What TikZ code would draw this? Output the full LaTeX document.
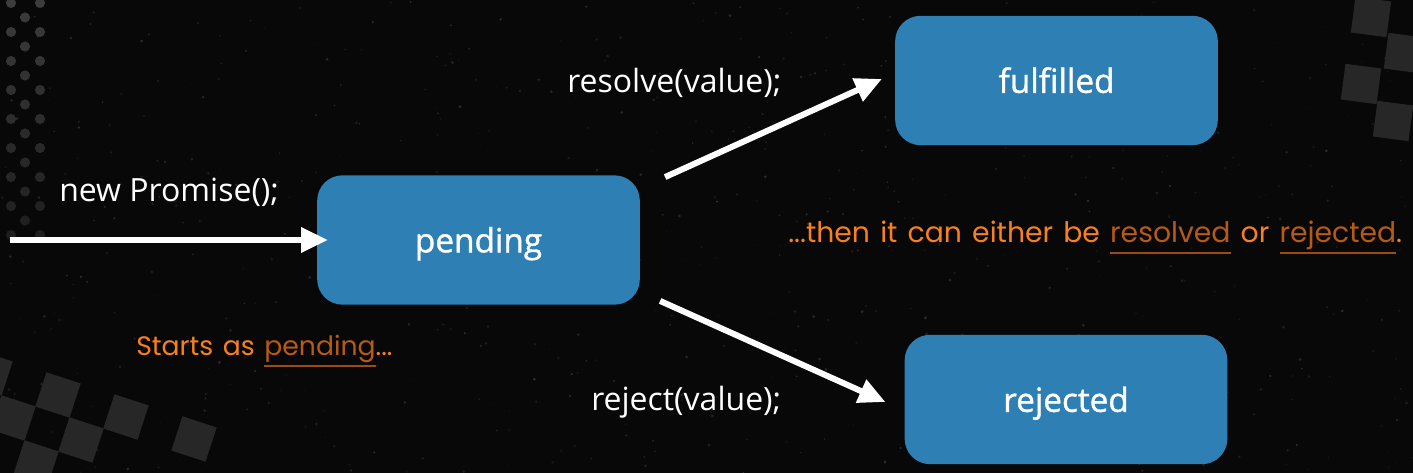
\documentclass[tikz,border=0pt]{standalone}
\usepackage{fontspec}
\setmainfont{Open Sans}
\newfontfamily\semifont{Open Sans}[FakeBold=1.2]
\newfontfamily\handfont{Poppins}[WordSpace=1.35]
\usetikzlibrary{arrows.meta}
\definecolor{bgc}{HTML}{080808}
\definecolor{boxblue}{HTML}{2E7FB3}
\definecolor{orangetxt}{HTML}{F7811E}
\definecolor{orangedark}{HTML}{B65A14}
\definecolor{ulc}{HTML}{9C4C10}
\definecolor{checkc}{HTML}{272727}
\definecolor{dotc}{HTML}{3C3C3C}
\definecolor{speckc}{HTML}{2E2E2E}
\newsavebox\hulbox
\newcommand\hul[1]{\sbox\hulbox{#1}\rlap{\textcolor{ulc}{\rule[-8.5pt]{\wd\hulbox}{1.6pt}}}\usebox\hulbox}
\begin{document}
\begin{tikzpicture}[x=0.75pt,y=-0.75pt,
  state/.style={draw=none, fill=boxblue, rounded corners=19pt,
    minimum width=242pt, minimum height=97pt, inner sep=0pt,
    text=white, font=\semifont\fontsize{25}{29}\selectfont,
    text height=18.5pt, text depth=0pt},
  lab/.style={text=white, font=\fontsize{24}{28}\selectfont,
    inner sep=0pt, anchor=base west},
  hand/.style={text=orangetxt, inner sep=0pt, anchor=base west},
  arr/.style={draw=white, line width=4.5pt,
    -{Triangle[length=20pt,width=18pt]}},
  sq/.style={fill=checkc},
  dotty/.style={fill=dotc}]
% background
\fill[bgc] (0,0) rectangle (1413,473);
\useasboundingbox (0,0) rectangle (1413,473);
% speckles
\pgfmathsetseed{42}
\foreach \i in {1,...,650}{
  \pgfmathsetmacro\xx{rnd*1413}
  \pgfmathsetmacro\yy{rnd*473}
  \pgfmathsetmacro\rr{0.25+rnd*0.9}
  \pgfmathsetmacro\op{0.35+rnd*0.65}
  \fill[speckc, opacity=\op] (\xx,\yy) circle (\rr pt);
}
% dotted column at the left
\foreach \j in {0,...,16}{
  \pgfmathsetmacro\yy{3+\j*14.5}
  \pgfmathsetmacro\op{1-\j*0.035}
  \ifodd\j
    \fill[dotty, opacity=\op] (25,\yy) circle (3.8pt);
  \else
    \fill[dotty, opacity=\op] (11,\yy) circle (3.8pt);
    \fill[dotty, opacity=\op] (40,\yy) circle (3.8pt);
  \fi
}
% checkers
\begin{scope}
\clip (0,0) rectangle (1413,473);
\foreach \cx/\cy in {1371/17, 1404/53, 1361/84, 1393/121}{
  \fill[sq, shift={(\cx,\cy)}, rotate=-7.5] (-18,-18) rectangle (18,18);
}
\foreach \cx/\cy in {58/395, 81/440, 126/417, 13/418, -10/373, 36/463, 194/439}{
  \fill[sq, shift={(\cx,\cy)}, rotate=-18] (-18,-18) rectangle (18,18);
}
\end{scope}
% states
\node[state] (pending) at (478.5,240) {pending};
\node[state] (fulfilled) at (1056.5,80.5) {fulfilled};
\node[state] (rejected) at (1066,399.5) {rejected};
% labels
\node[lab] (np) at (59,202) {new Promise();};
\node[lab] (rs) at (567,93) {resolve(value);};
\node[lab] (rj) at (591,411) {reject(value);};
% handwritten notes
\node[hand, font=\handfont\fontsize{20}{24}\selectfont] (st) at (136,356) {Starts as \hul{\textcolor{orangedark}{pending}}...};
\node[hand, font=\handfont\fontsize{21.2}{25}\selectfont] (th) at (788,243) {...then it can either be \hul{\textcolor{orangedark}{resolved}} or \hul{\textcolor{orangedark}{rejected}}.};
% arrows
\coordinate (src) at (10,240);
\draw[arr] (src) -- ([xshift=8.25pt]pending.west);
\draw[arr] ([shift={(25,2)}]pending.north east) -- ([shift={(-13,-1.5)}]fulfilled.west);
\draw[arr] ([shift={(20,-4)}]pending.south east) -- ([shift={(-19,2.5)}]rejected.west);
\end{tikzpicture}
\end{document}
